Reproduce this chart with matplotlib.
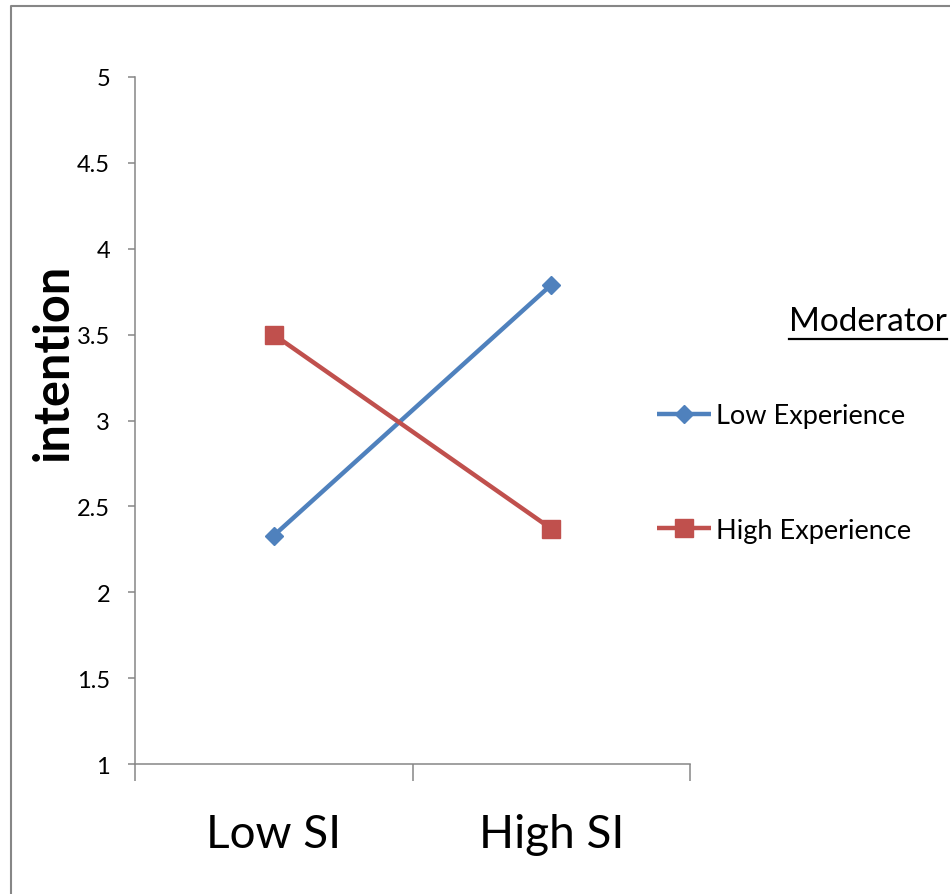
#!/usr/bin/python3

import matplotlib
matplotlib.use('Agg')
import matplotlib.pyplot as plt
from matplotlib.lines import Line2D

plt.rcParams['font.family'] = ['Lato', 'DejaVu Sans']

categories = ['Low SI', 'High SI']
low_experience = [2.33, 3.79]
high_experience = [3.50, 2.37]
series_names = ['Low Experience', 'High Experience']
legend_title = 'Moderator'
y_ticks = [1, 1.5, 2, 2.5, 3, 3.5, 4, 4.5, 5]
y_label = 'intention'

BLUE = '#4f81bd'
RED = '#c0504d'
GREY = '#868686'


def main():
	'''draw the interaction plot and save it'''

	fig = plt.figure(figsize=(9.5, 8.95), dpi=100)
	ax = fig.add_axes([135 / 950, 1 - 765 / 895, 555 / 950, 687 / 895])

	xs = list(range(len(categories)))
	ax.plot(xs, low_experience, color=BLUE, lw=3.2, marker='D', ms=9,
		label=series_names[0], solid_capstyle='butt')
	ax.plot(xs, high_experience, color=RED, lw=3.2, marker='s', ms=12.5,
		label=series_names[1], solid_capstyle='butt')

	ax.set_xlim(-0.5, len(categories) - 0.5)
	ax.set_ylim(1, 5)

	# band edges get the tick marks, band centres get the labels
	ax.set_xticks([i - 0.5 for i in range(len(categories) + 1)])
	ax.set_xticklabels([])
	ax.set_xticks(xs, minor=True)
	ax.set_xticklabels(categories, minor=True, fontsize=33)
	ax.tick_params(axis='x', which='major', direction='out', length=12, width=1.1, color=GREY)
	ax.tick_params(axis='x', which='minor', length=0, pad=35)

	ax.set_yticks(y_ticks)
	ax.set_yticklabels(['%g' % v for v in y_ticks], fontsize=17)
	ax.tick_params(axis='y', direction='out', length=5, width=1.1, color=GREY, pad=13)

	for side in ['top', 'right']:
		ax.spines[side].set_visible(False)
	for side in ['left', 'bottom']:
		ax.spines[side].set_color(GREY)
		ax.spines[side].set_linewidth(1.1)

	lab = ax.set_ylabel(y_label, fontsize=35, fontweight='bold')
	ax.yaxis.set_label_coords(-0.148, 0.5866)
	lab.set_va('center')

	ax.legend(loc='center left', bbox_to_anchor=(643 / 950, 1 - 474 / 895),
		bbox_transform=fig.transFigure, frameon=False, fontsize=19.5,
		handlelength=2.0, handletextpad=0.2, labelspacing=3.3, borderpad=0)

	title = fig.text(789 / 950, 1 - 322 / 895, legend_title, fontsize=24, va='center', ha='left')

	# underline the legend title
	fig.canvas.draw()
	bb = title.get_window_extent()
	uy = bb.y0 - 3
	fig.add_artist(Line2D([bb.x0 / 950, bb.x1 / 950], [uy / 895, uy / 895],
		transform=fig.transFigure, color='black', lw=1.6))

	# outer frame of the chart area
	fig.add_artist(Line2D([11 / 950, 11 / 950, 1], [0, 1 - 7 / 895, 1 - 7 / 895],
		transform=fig.transFigure, color=GREY, lw=1.5))

	fig.savefig('out.png', dpi=100)


if __name__ == '__main__':
	main()
